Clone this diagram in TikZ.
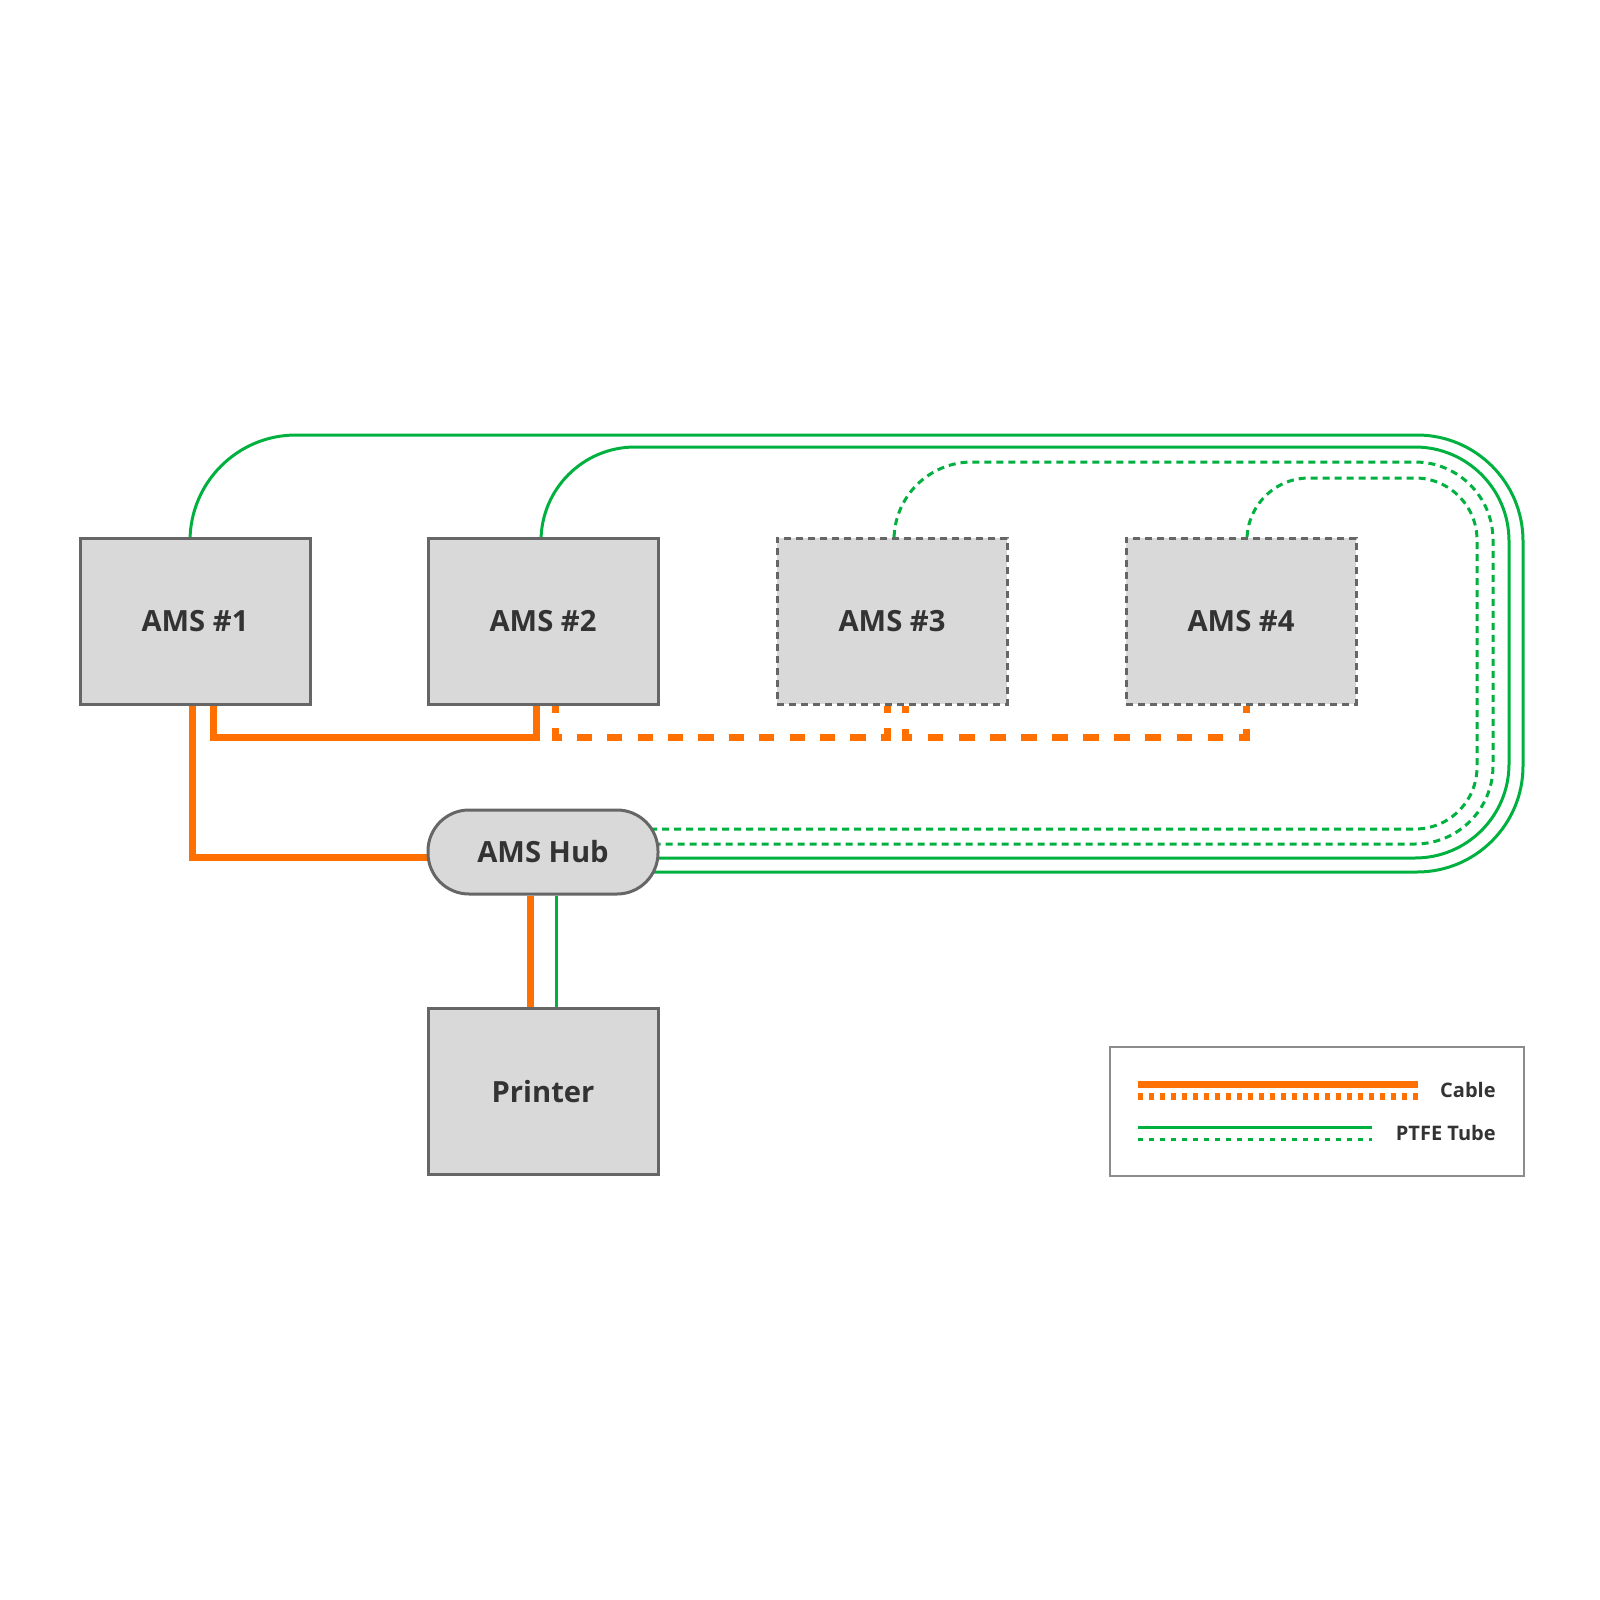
\documentclass[tikz,border=0pt]{standalone}
\usepackage{fontspec}
\setmainfont{Open Sans}
\usetikzlibrary{calc}
\definecolor{boxfill}{HTML}{D9D9D9}
\definecolor{boxline}{HTML}{666666}
\definecolor{legendline}{HTML}{8C8C8C}
\definecolor{cable}{HTML}{FF7000}
\definecolor{ptfe}{HTML}{00B140}
\definecolor{txt}{HTML}{333333}
\pgfdeclarelayer{bg}
\pgfsetlayers{bg,main}
\begin{document}
\begin{tikzpicture}[x=0.5pt,y=-0.5pt,
  amsbox/.style={draw=boxline, fill=boxfill, line width=1.5pt, minimum width=115pt, minimum height=83pt, inner sep=0pt, font=\bfseries\fontsize{14.6}{16}\selectfont, text=txt},
  ghostbox/.style={amsbox, dash pattern=on 3.5pt off 2.5pt},
  hubbox/.style={amsbox, minimum height=42pt, rounded corners=20.5pt},
  cablesolid/.style={draw=cable, line width=3.5pt},
  cabledashA/.style={cablesolid, dash pattern=on 7.6pt off 7.6pt, dash phase=3.8pt},
  cabledashB/.style={cablesolid, dash pattern=on 7.77pt off 7.77pt, dash phase=3.885pt},
  cabledot/.style={cablesolid, dash pattern=on 2.5pt off 3pt},
  tube/.style={draw=ptfe, line width=1.5pt},
  tubedot/.style={tube, dash pattern=on 3.5pt off 2.5pt},
  tubedotfine/.style={tube, dash pattern=on 2.5pt off 3pt},
  legendtext/.style={inner sep=0pt, anchor=east, text=txt, font=\bfseries\fontsize{10}{12}\selectfont},
]
\useasboundingbox (0,0) rectangle (1600,1600);

% nodes
\node[amsbox] (ams1) at (195,621) {AMS \#1};
\node[amsbox] (ams2) at (543,621) {AMS \#2};
\node[ghostbox] (ams3) at (892,621) {AMS \#3};
\node[ghostbox] (ams4) at (1241,621) {AMS \#4};
\node[hubbox] (hub) at (543,852) {AMS Hub};
\node[amsbox] (printer) at (543,1091.5) {Printer};

% legend
\node[draw=legendline, line width=1pt, minimum width=207pt, minimum height=64.5pt, inner sep=0pt] (legend) at (1317,1111.5) {};
\node[legendtext] (lcable) at (1496,1090) {Cable};
\node[legendtext] (lptfe) at (1496,1133) {PTFE Tube};
\draw[cablesolid] (1138,1084) -- (1418,1084);
\draw[cabledot] (1138,1096) -- (1418,1096);
\draw[tube] (1138,1127) -- (1372,1127);
\draw[tubedotfine] (1138,1139) -- (1372,1139);

\begin{pgfonlayer}{bg}
% PTFE tubes
\draw[tube, rounded corners=53pt] ($(ams1.center)+(-5,0)$) |- (1523,435) |- ($(hub.center)+(0,20)$);
\draw[tube, rounded corners=47pt] ($(ams2.center)+(-2,0)$) |- (1509,447) |- ($(hub.center)+(0,6)$);
\draw[tubedot, rounded corners=39pt] ($(ams3.center)+(2,0)$) |- (1493,462) |- ($(hub.center)+(0,-8)$);
\draw[tubedot, rounded corners=31pt] ($(ams4.center)+(6,0)$) |- (1477,478) |- ($(hub.center)+(0,-23)$);
\draw[tube] ($(hub.south)+(13,0)$) -- ($(printer.north)+(13,0)$);
% cables
\draw[cablesolid] ($(ams1.center)+(-3,0)$) |- ($(hub.center)+(0,5)$);
\draw[cablesolid] ($(ams1.center)+(18,0)$) -- ++(0,116) -| ($(ams2.center)+(-7,0)$);
\draw[cabledashA] ($(ams2.south)+(12,0)$) -- ++(0,31.5) -| ($(ams3.south)+(-5,0)$);
\draw[cabledashB] ($(ams3.south)+(13,0)$) -- ++(0,31.5) -| ($(ams4.south)+(5,0)$);
\draw[cablesolid] ($(hub.south)+(-13,0)$) -- ($(printer.north)+(-13,0)$);
\end{pgfonlayer}
\end{tikzpicture}
\end{document}
